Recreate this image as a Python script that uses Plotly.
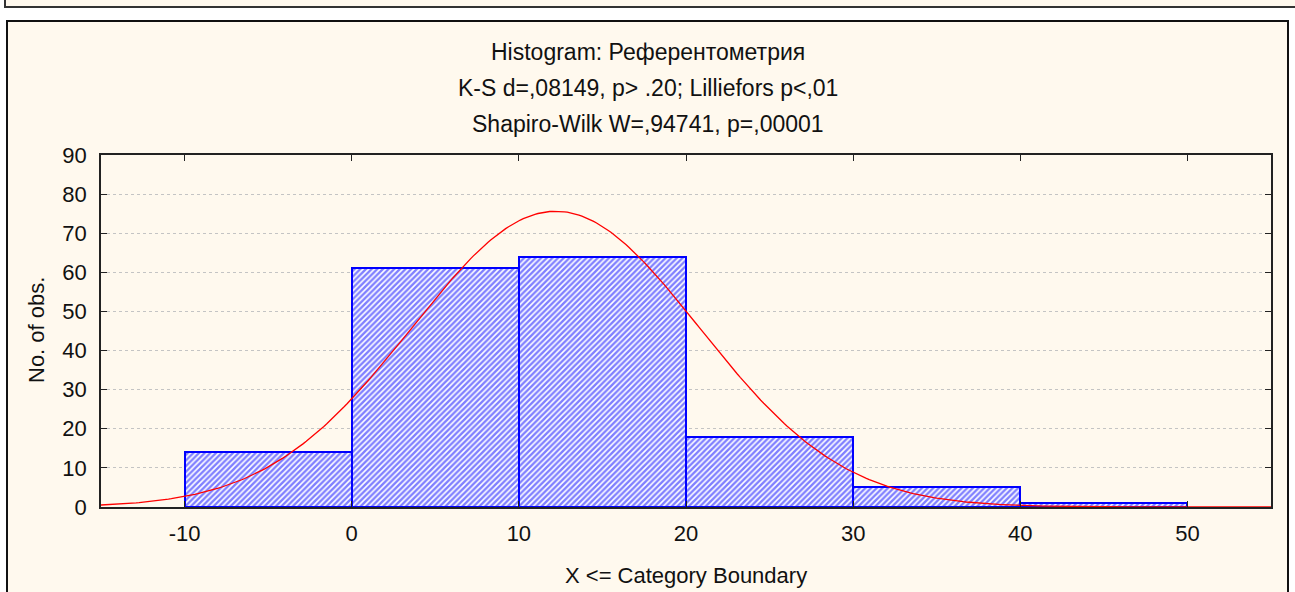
import numpy as np
import plotly.graph_objects as go

# ---- data ----
bin_edges = [-10, 0, 10, 20, 30, 40, 50]
counts = [14, 61, 64, 18, 5, 1]
x_ticks = [-10, 0, 10, 20, 30, 40, 50]
y_ticks = [0, 10, 20, 30, 40, 50, 60, 70, 80, 90]
# fitted normal curve parameters
fit_mean = 12.2
fit_sd = 8.6
bin_width = 10
title_lines = [
    "Histogram: Референтометрия",
    "K-S d=,08149, p> .20; Lilliefors p<,01",
    "Shapiro-Wilk W=,94741, p=,00001",
]
x_label = "X <= Category Boundary"
y_label = "No. of obs."

W, H = 1295, 592
PL, PR, PT, PB = 101, 1271, 155, 507
FONT = "Liberation Sans, Arial, sans-serif"
CREAM = "#fff9ee"

centers = [(a + b) / 2 for a, b in zip(bin_edges[:-1], bin_edges[1:])]
n_total = sum(counts)
xc = np.linspace(-15, 55, 400)
yc = n_total * bin_width / (fit_sd * np.sqrt(2 * np.pi)) * np.exp(-0.5 * ((xc - fit_mean) / fit_sd) ** 2)


def px_x(px):
    return (px - PL) / (PR - PL)


def px_y(py):
    return (PB - py) / (PB - PT)


fig = go.Figure()
fig.add_trace(go.Bar(
    x=centers, y=counts, width=bin_width,
    marker=dict(
        color="white",
        line=dict(color="#0000ff", width=2),
        pattern=dict(shape="/", fgcolor="#0000ff", bgcolor="white", size=4, solidity=0.6),
    ),
    hoverinfo="skip",
))
fig.add_trace(go.Scatter(x=xc, y=yc, mode="lines", line=dict(color="#ff0000", width=1.3), hoverinfo="skip"))

shapes = [
    # top strip
    dict(type="rect", xref="paper", yref="paper", x0=px_x(5), x1=px_x(1300), y0=px_y(-10), y1=px_y(7),
         fillcolor=CREAM, line=dict(color="#333333", width=2), layer="below"),
    # main panel
    dict(type="rect", xref="paper", yref="paper", x0=px_x(7), x1=px_x(1288), y0=px_y(21), y1=px_y(605),
         fillcolor=CREAM, line=dict(color="#111111", width=2), layer="below"),
]

annotations = []
for i, (t, yy) in enumerate(zip(title_lines, [52, 88, 124])):
    annotations.append(dict(text=t, xref="paper", yref="paper", x=px_x(647.5), y=px_y(yy),
                            xanchor="center", yanchor="middle", showarrow=False,
                            font=dict(family=FONT, size=23, color="#111111")))
annotations.append(dict(text=x_label, xref="paper", yref="paper", x=px_x(686), y=px_y(575),
                        xanchor="center", yanchor="middle", showarrow=False,
                        font=dict(family=FONT, size=22, color="#111111")))
annotations.append(dict(text=y_label, xref="paper", yref="paper", x=px_x(36), y=px_y(330),
                        xanchor="center", yanchor="middle", showarrow=False, textangle=-90,
                        font=dict(family=FONT, size=22, color="#111111")))

fig.update_layout(
    width=W, height=H,
    margin=dict(l=PL, r=W - PR, t=PT, b=H - PB, pad=0),
    paper_bgcolor="white", plot_bgcolor="white",
    showlegend=False, bargap=0,
    shapes=shapes, annotations=annotations,
    font=dict(family=FONT, size=22, color="#111111"),
)
fig.update_xaxes(
    range=[-15, 55], tickvals=x_ticks, ticktext=[str(v) for v in x_ticks],
    showgrid=False, zeroline=False, showline=True, linecolor="#222222", linewidth=1.5, mirror="ticks",
    ticks="inside", ticklen=6, tickcolor="#222222", tickfont=dict(size=22), ticklabelstandoff=6,
)
fig.update_yaxes(
    range=[0, 90], tickvals=y_ticks, ticktext=[str(v) for v in y_ticks],
    showgrid=True, gridcolor="#c4c4c4", griddash="dot", gridwidth=1,
    zeroline=False, showline=True, linecolor="#222222", linewidth=1.5, mirror="ticks",
    ticks="inside", ticklen=6, tickcolor="#222222", tickfont=dict(size=22), ticklabelstandoff=8,
)

fig.write_html("out.html", config={"displayModeBar": False},
               post_script="document.body.style.margin='0';document.body.style.overflow='hidden';")
